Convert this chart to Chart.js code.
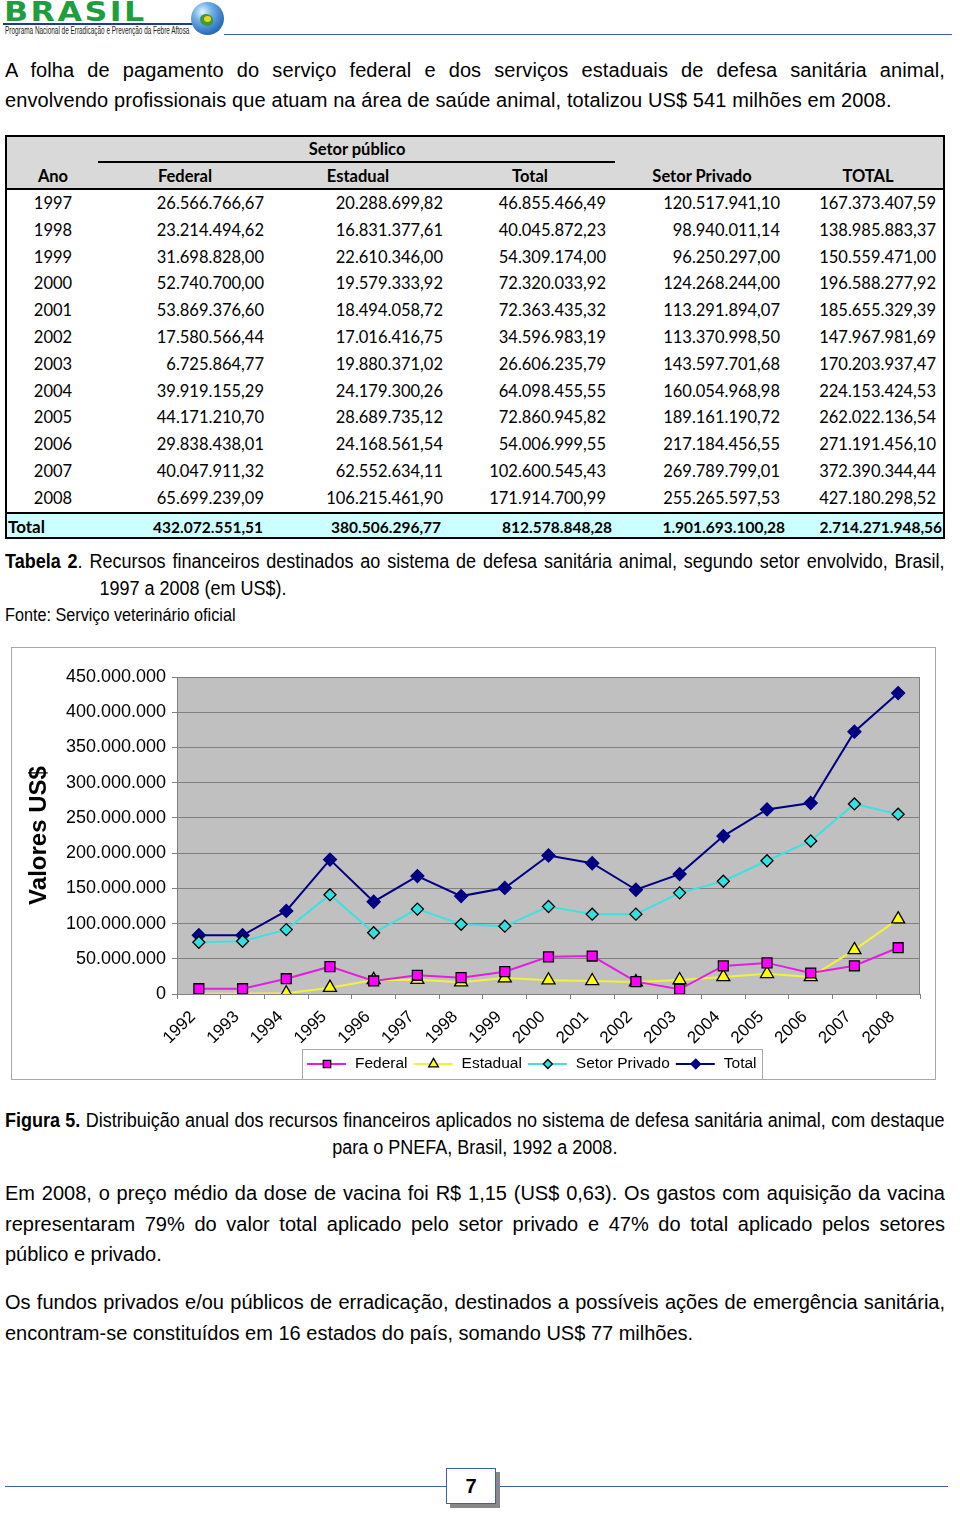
<!DOCTYPE html>
<html lang="pt-BR">
<head>
<meta charset="utf-8">
<title>Recursos financeiros - defesa sanitária animal</title>
<script src="https://cdn.jsdelivr.net/npm/chart.js@4.4.1/dist/chart.umd.min.js"></script>
<style>
  html, body { margin: 0; padding: 0; background: #fff; }
  body { width: 960px; height: 1513px; position: relative; overflow: hidden;
         font-family: "Liberation Sans", Arial, sans-serif; color: #000; }
  .abs { position: absolute; }
  .par { position: absolute; left: 5px; width: 940px; font-size: 20px; line-height: 30.5px; text-align: justify; }
  /* legendas em fonte estreita */
  .cap { position: absolute; left: 5px; width: 1044px; font-size: 20px; line-height: 27px; text-align: justify;
         transform: scaleX(0.9); transform-origin: 0 0; }
  #tabela { position: absolute; left: 5px; top: 135px; width: 940px; height: 404px; box-sizing: border-box;
            border: 2px solid #000; font-family: Lato, "Open Sans", sans-serif; font-size: 16.5px; }
  #tabela span { position: absolute; line-height: 20px; white-space: nowrap; }
  .th { font-weight: bold; }
  #grafico { position: absolute; left: 11px; top: 647px; width: 925px; height: 433px; }
  #grafico .moldura { position: absolute; inset: 0; border: 1px solid #a8a8a8; pointer-events: none; }
</style>
</head>
<body>

<!-- cabeçalho -->
<div class="abs" style="left:4px;top:-3px;font:bold 26px 'DejaVu Sans';letter-spacing:2px;color:#1f9e3e;transform:scaleX(1.22);transform-origin:0 0;">BRASIL</div>
<div class="abs" style="left:3px;top:23px;width:190px;height:2px;background:#1d3c8c;"></div>
<div class="abs" style="left:5px;top:25px;font-size:10.5px;line-height:11px;color:#222;transform:scaleX(0.61);transform-origin:left top;white-space:nowrap;">Programa Nacional de Erradicação e Prevenção da Febre Aftosa</div>
<div class="abs" style="left:191px;top:2px;width:33px;height:33px;border-radius:50%;
     background:radial-gradient(circle at 35% 30%, #e8f4ff 0, #6fb0e6 30%, #2d6fc0 70%, #1b4a90 100%);"></div>
<div class="abs" style="left:200px;top:14px;width:13px;height:12px;border-radius:45% 55% 40% 60%;background:#3b9a3a;"></div>
<div class="abs" style="left:204px;top:16px;width:7px;height:6px;border-radius:50%;background:#f1d31c;"></div>
<div class="abs" style="left:224px;top:34px;width:728px;height:1px;background:#3a62b0;"></div>

<div class="par" style="top:55px;line-height:30px;letter-spacing:0.1px;">A folha de pagamento do serviço federal e dos serviços estaduais de defesa sanitária animal, envolvendo profissionais que atuam na área de saúde animal, totalizou US$ 541 milhões em 2008.</div>

<div id="tabela"></div>

<div class="cap" style="top:548px;padding-left:105px;width:939px;text-indent:-105px;">
  <b>Tabela 2</b>. Recursos financeiros destinados ao sistema de defesa sanitária animal, segundo setor envolvido, Brasil, 1997 a 2008 (em US$).</div>
<div class="cap" style="top:605px;font-size:18px;line-height:20px;">Fonte: Serviço veterinário oficial</div>

<div id="grafico">
  <canvas id="chart"></canvas>
  <div class="moldura"></div>
</div>

<div class="cap" style="top:1107px;text-align-last:center;">
  <b>Figura 5.</b> Distribuição anual dos recursos financeiros aplicados no sistema de defesa sanitária animal, com destaque para o PNEFA, Brasil, 1992 a 2008.</div>

<div class="par" style="top:1178px;">Em 2008, o preço médio da dose de vacina foi R$ 1,15 (US$ 0,63). Os gastos com aquisição da vacina representaram 79% do valor total aplicado pelo setor privado e 47% do total aplicado pelos setores público e privado.</div>

<div class="par" style="top:1287px;">Os fundos privados e/ou públicos de erradicação, destinados a possíveis ações de emergência sanitária, encontram-se constituídos em 16 estados do país, somando US$ 77 milhões.</div>

<!-- rodapé -->
<div class="abs" style="left:5px;top:1486px;width:943px;height:1px;background:#3a62b0;"></div>
<div class="abs" style="left:450px;top:1472px;width:50px;height:36px;background:#888;"></div>
<div class="abs" style="left:446px;top:1468px;width:48px;height:34px;background:#fff;border:1px solid #3a62b0;
     font:bold 20px 'Liberation Sans';text-align:center;line-height:34px;">7</div>

<script>
// Tabela 2 (texto)
const anosTabela = ['1997', '1998', '1999', '2000', '2001', '2002', '2003', '2004', '2005', '2006', '2007', '2008'];
const colFederal = ['26.566.766,67', '23.214.494,62', '31.698.828,00', '52.740.700,00', '53.869.376,60', '17.580.566,44',
  '6.725.864,77', '39.919.155,29', '44.171.210,70', '29.838.438,01', '40.047.911,32', '65.699.239,09'];
const colEstadual = ['20.288.699,82', '16.831.377,61', '22.610.346,00', '19.579.333,92', '18.494.058,72', '17.016.416,75',
  '19.880.371,02', '24.179.300,26', '28.689.735,12', '24.168.561,54', '62.552.634,11', '106.215.461,90'];
const colPublico = ['46.855.466,49', '40.045.872,23', '54.309.174,00', '72.320.033,92', '72.363.435,32', '34.596.983,19',
  '26.606.235,79', '64.098.455,55', '72.860.945,82', '54.006.999,55', '102.600.545,43', '171.914.700,99'];
const colPrivado = ['120.517.941,10', '98.940.011,14', '96.250.297,00', '124.268.244,00', '113.291.894,07', '113.370.998,50',
  '143.597.701,68', '160.054.968,98', '189.161.190,72', '217.184.456,55', '269.789.799,01', '255.265.597,53'];
const colTotal = ['167.373.407,59', '138.985.883,37', '150.559.471,00', '196.588.277,92', '185.655.329,39', '147.967.981,69',
  '170.203.937,47', '224.153.424,53', '262.022.136,54', '271.191.456,10', '372.390.344,44', '427.180.298,52'];
const linhaTotal = ['432.072.551,51', '380.506.296,77', '812.578.848,28', '1.901.693.100,28', '2.714.271.948,56'];

// Figura 5 (valores em US$)
const anos = ['1992', '1993', '1994', '1995', '1996', '1997', '1998', '1999', '2000', '2001', '2002', '2003',
  '2004', '2005', '2006', '2007', '2008'];
const federal = [7500000, 7500000, 21700000, 38800000, 18500000, 26566767, 23214495, 31698828, 52740700, 53869377,
  17580566, 6725865, 39919155, 44171211, 29838438, 40047911, 65699239];
const estadual = [500000, 300000, 1000000, 9000000, 20000000, 20288700, 16831378, 22610346, 19579334, 18494059,
  17016417, 19880371, 24179300, 28689735, 24168562, 62552634, 106215462];
const setorPrivado = [73400000, 74800000, 91400000, 141000000, 87000000, 120517941, 98940011, 96250297, 124268244,
  113291894, 113370999, 143597702, 160054969, 189161191, 217184457, 269789799, 255265598];
const total = [83400000, 83400000, 118000000, 190800000, 131000000, 167373408, 138985883, 150559471, 196588278,
  185655329, 147967982, 170203937, 224153425, 262022137, 271191456, 372390344, 427180299];

// monta a tabela
function montarTabela() {
  const t = document.getElementById('tabela');
  const L = 2; // borda
  let html = '';
  html += '<div style="position:absolute;left:0;top:0;right:0;height:51px;background:#d9d9d9;"></div>';
  html += '<div style="position:absolute;left:0;top:51px;right:0;height:1.5px;background:#000;"></div>';
  html += '<div style="position:absolute;left:91px;top:24px;width:517px;height:2px;background:#000;"></div>';
  html += '<div style="position:absolute;left:0;top:375px;right:0;bottom:0;background:#ccffff;border-top:2px solid #000;"></div>';

  const cab = [['Ano', 48], ['Federal', 180], ['Estadual', 353], ['Total', 525], ['Setor Privado', 697], ['TOTAL', 863]];
  html += `<span class="th" style="left:${352 - L - 80}px;width:160px;text-align:center;top:2px;">Setor público</span>`;
  cab.forEach(([txt, cx]) => {
    html += `<span class="th" style="left:${cx - L - 80}px;width:160px;text-align:center;top:29px;">${txt}</span>`;
  });

  const direita = [259, 438, 601, 775, 931];
  anosTabela.forEach((ano, i) => {
    const top = 68 - L - 10 + 26.8 * i;
    html += `<span style="left:${48 - L - 40}px;width:80px;text-align:center;top:${top}px;">${ano}</span>`;
    [colFederal, colEstadual, colPublico, colPrivado, colTotal].forEach((col, j) => {
      html += `<span style="right:${940 - direita[j] - L}px;top:${top}px;">${col[i]}</span>`;
    });
  });
  const direitaTot = [258, 436, 607, 780, 937];
  html += `<span class="th" style="left:1px;top:${392 - L - 10}px;font-size:17px;">Total</span>`;
  linhaTotal.forEach((v, j) => {
    html += `<span class="th" style="right:${940 - direitaTot[j] - L}px;top:${392 - L - 10}px;font-size:15.5px;">${v}</span>`;
  });
  t.innerHTML = html;
}
montarTabela();

function formatarMilhar(v) {
  return String(Math.round(v)).replace(/\B(?=(\d{3})+(?!\d))/g, '.');
}

// fundo cinza da área do gráfico
const fundoPlot = {
  id: 'fundoPlot',
  beforeDraw(chart) {
    const { ctx, chartArea: a } = chart;
    ctx.save();
    ctx.fillStyle = '#c0c0c0';
    ctx.fillRect(a.left, a.top, a.right - a.left, a.bottom - a.top);
    ctx.strokeStyle = '#808080';
    ctx.lineWidth = 1;
    ctx.strokeRect(a.left + 0.5, a.top + 0.5, a.right - a.left - 1, a.bottom - a.top);
    ctx.restore();
  }
};

// título do eixo y + legenda desenhada à mão
const extras = {
  id: 'extras',
  afterDraw(chart) {
    const { ctx, chartArea: a } = chart;
    ctx.save();
    ctx.fillStyle = '#000';
    ctx.font = 'bold 24px "Liberation Sans", Arial';
    ctx.textAlign = 'center';
    ctx.textBaseline = 'middle';
    ctx.translate(28, (a.top + a.bottom) / 2);
    ctx.rotate(-Math.PI / 2);
    ctx.fillText('Valores US$', 0, 0);
    ctx.restore();

    // legenda
    const yc = 417;
    ctx.save();
    ctx.strokeStyle = '#a8a8a8';
    ctx.lineWidth = 1;
    ctx.strokeRect(291.5, 402.5, 460, 34);
    ctx.font = '15.5px "Liberation Sans", Arial';
    ctx.textBaseline = 'middle';
    ctx.textAlign = 'left';
    let x = 296;
    chart.data.datasets.forEach(ds => {
      ctx.strokeStyle = ds.borderColor;
      ctx.lineWidth = 2;
      ctx.beginPath();
      ctx.moveTo(x, yc);
      ctx.lineTo(x + 39, yc);
      ctx.stroke();
      ctx.fillStyle = ds.pointBackgroundColor;
      ctx.strokeStyle = ds.pointBorderColor;
      ctx.lineWidth = 1.3;
      Chart.helpers.drawPoint(ctx, { pointStyle: ds.pointStyle, radius: ds.pointRadius * 0.75, rotation: 0, borderWidth: 1.3 }, x + 20, yc);
      ctx.fillStyle = '#000';
      ctx.fillText(ds.label, x + 48, yc);
      x += 48 + ctx.measureText(ds.label).width + 6;
    });
    ctx.restore();
  }
};

new Chart(document.getElementById('chart'), {
  type: 'line',
  data: {
    labels: anos,
    datasets: [
      { label: 'Federal', data: federal, borderColor: '#e41ee0', pointBackgroundColor: '#ff00ff',
        pointBorderColor: '#000', pointStyle: 'rect', pointRadius: 7 },
      { label: 'Estadual', data: estadual, borderColor: '#f2f23a', pointBackgroundColor: '#ffff00',
        pointBorderColor: '#000', pointStyle: 'triangle', pointRadius: 7.5 },
      { label: 'Setor Privado', data: setorPrivado, borderColor: '#3fe0e0', pointBackgroundColor: '#33e0e0',
        pointBorderColor: '#000', pointStyle: 'rectRot', pointRadius: 6 },
      { label: 'Total', data: total, borderColor: '#000080', pointBackgroundColor: '#000080',
        pointBorderColor: '#000080', pointStyle: 'rectRot', pointRadius: 6.5 }
    ]
  },
  options: {
    responsive: true,
    maintainAspectRatio: false,
    animation: false,
    devicePixelRatio: 1,
    layout: { padding: { top: 30, right: 16, left: 0, bottom: 0 } },
    elements: {
      line: { borderWidth: 2, tension: 0 },
      point: { borderWidth: 1.3, hoverRadius: 7 }
    },
    plugins: {
      legend: { display: false },
      tooltip: { enabled: false }
    },
    scales: {
      x: {
        offset: true,
        afterFit: s => { s.height = 86; },
        grid: { display: true, drawOnChartArea: false, offset: true, tickLength: 5, color: '#808080' },
        border: { color: '#808080' },
        ticks: { color: '#000', font: { family: '"Liberation Sans", Arial', size: 17 },
                 minRotation: 45, maxRotation: 45, padding: 8, labelOffset: -6, autoSkip: false }
      },
      y: {
        min: 0,
        max: 450000000,
        afterFit: s => { s.width = 166; },
        grid: { color: '#808080', tickLength: 5, lineWidth: 1 },
        border: { color: '#808080' },
        ticks: { stepSize: 50000000, color: '#000', padding: 6,
                 font: { family: '"Liberation Sans", Arial', size: 18 },
                 callback: v => formatarMilhar(v) }
      }
    }
  },
  plugins: [fundoPlot, extras]
});
</script>
</body>
</html>
